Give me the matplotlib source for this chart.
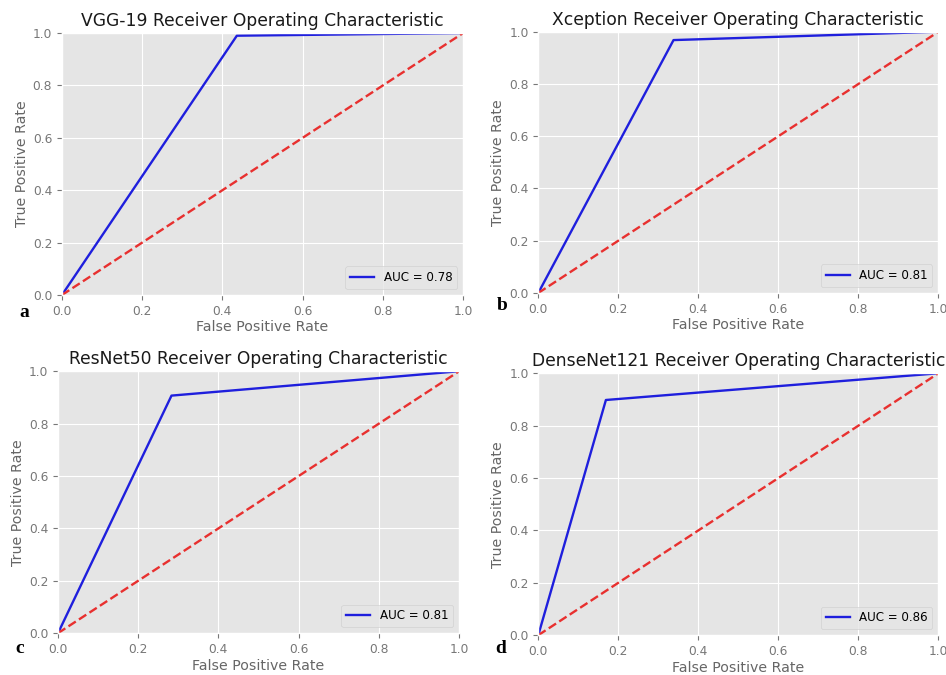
import matplotlib
matplotlib.use("Agg")
import matplotlib.pyplot as plt

# ROC points
models = ["VGG-19", "Xception", "ResNet50", "DenseNet121"]
fpr = [
    [0.0, 0.436, 1.0],
    [0.0, 0.338, 1.0],
    [0.0, 0.283, 1.0],
    [0.0, 0.169, 1.0],
]
tpr = [
    [0.0, 0.99, 1.0],
    [0.0, 0.968, 1.0],
    [0.0, 0.907, 1.0],
    [0.0, 0.898, 1.0],
]
aucs = [0.78, 0.81, 0.81, 0.86]
panel_letters = ["a", "b", "c", "d"]

plt.style.use('ggplot')
fig = plt.figure(figsize=(9.46, 6.75), dpi=100)

# axes boxes in figure fractions (left, bottom, width, height)
boxes = [
    (0.0655, 0.563, 0.424, 0.388),
    (0.569, 0.566, 0.423, 0.387),
    (0.0613, 0.062, 0.424, 0.388),
    (0.569, 0.059, 0.423, 0.388),
]
# panel letter positions (figure fractions)
letter_pos = [(0.020, 0.531), (0.525, 0.541), (0.016, 0.033), (0.524, 0.033)]

for i in range(4):
    ax = fig.add_axes(boxes[i])
    ax.plot(fpr[i], tpr[i], color='#1f1fdd', lw=1.7, label='AUC = %0.2f' % aucs[i])
    ax.plot([0, 1], [0, 1], '--', color='#e8302f', lw=1.7)
    ax.set_xlim(0, 1)
    ax.set_ylim(0, 1)
    ax.set_title(models[i] + " Receiver Operating Characteristic",
                 fontsize=12.3, color='#1a1a1a', pad=5)
    ax.set_xlabel("False Positive Rate", fontsize=10.2, color='#666666', labelpad=2)
    ax.set_ylabel("True Positive Rate", fontsize=10.2, color='#666666', labelpad=3)
    ax.tick_params(labelsize=8.8, colors='#777777')
    ax.legend(loc='lower right', fontsize=8.6)
    fig.text(letter_pos[i][0], letter_pos[i][1], panel_letters[i],
             fontsize=14, fontweight='bold', family='Liberation Serif', color='black')

fig.savefig("out.png", dpi=100)
